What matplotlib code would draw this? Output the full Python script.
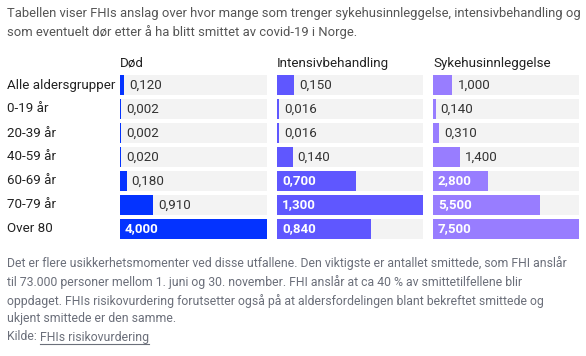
import matplotlib.pyplot as plt

# Data
age_groups = ['Alle aldersgrupper', '0-19 år', '20-39 år', '40-59 år',
              '60-69 år', '70-79 år', 'Over 80']
columns = ['Død', 'Intensivbehandling', 'Sykehusinnleggelse']
dod = [0.120, 0.002, 0.002, 0.020, 0.180, 0.910, 4.000]
intensiv = [0.150, 0.016, 0.016, 0.140, 0.700, 1.300, 0.840]
sykehus = [1.000, 0.140, 0.310, 1.400, 2.800, 5.500, 7.500]

intro = ('Tabellen viser FHIs anslag over hvor mange som trenger sykehusinnleggelse, intensivbehandling og\n'
         'som eventuelt dør etter å ha blitt smittet av covid-19 i Norge.')
note = ('Det er flere usikkerhetsmomenter ved disse utfallene. Den viktigste er antallet smittede, som FHI anslår\n'
        'til 73.000 personer mellom 1. juni og 30. november. FHI anslår at ca 40 % av smittetilfellene blir\n'
        'oppdaget. FHIs risikovurdering forutsetter også på at aldersfordelingen blant bekreftet smittede og\n'
        'ukjent smittede er den samme.')

colors = ['#0433ff', '#5f57ff', '#987dff']
bg = '#f3f3f3'
note_color = '#6b6f7a'

plt.rcParams['font.family'] = ['Roboto', 'DejaVu Sans']

W, H = 586, 356
fig = plt.figure(figsize=(W / 100, H / 100), dpi=100)
fig.patch.set_facecolor('white')


def px(x, y):
    # pixel coords (top-left origin) -> figure fraction
    return x / W, 1 - y / H


fig.text(*px(7, 23), intro, fontsize=9.35, color='#555555', va='center',
         linespacing=1.45)

# columns: left pixel, width
col_left = [120, 277, 433]
col_w = [147, 146, 146]
top, bottom = 75, 239

for values, name, left, width, color in zip([dod, intensiv, sykehus], columns,
                                             col_left, col_w, colors):
    ax = fig.add_axes([left / W, 1 - bottom / H, width / W, (bottom - top) / H])
    xmax = max(values)
    n = len(values)
    ys = list(range(n))
    ax.barh(ys, [xmax] * n, height=20 / 24, color=bg, linewidth=0)
    minw = xmax / width * 1.2
    draw = [max(v, minw) for v in values]
    ax.barh(ys, draw, height=20 / 24, color=color, linewidth=0)
    ax.set_xlim(0, xmax)
    ax.set_ylim(n - 1 + 10 / 24, -10 / 24)
    ax.axis('off')
    for y, v, d in zip(ys, values, draw):
        label = f'{v:.3f}'.replace('.', ',')
        if v / xmax >= 0.3:
            ax.annotate(label, (0, y), xytext=(5, 0), textcoords='offset pixels',
                        va='center', ha='left', fontsize=9.6, color='white',
                        fontweight='bold')
        else:
            ax.annotate(label, (d, y), xytext=(5, 0), textcoords='offset pixels',
                        va='center', ha='left', fontsize=9.6, color='#333333')
    fig.text(*px(left, 63), name, fontsize=9.6, color='#222222', va='center')

for i, g in enumerate(age_groups):
    fig.text(*px(7, 85 + 24 * i), g, fontsize=9.6, color='#222222', va='center')

fig.text(*px(7, 290.5), note, fontsize=8.85, color=note_color, va='center',
         linespacing=1.45)

# source line with underlined link text
src = fig.text(*px(7, 337), 'Kilde: ', fontsize=8.85, color=note_color, va='center')
fig.canvas.draw()
bb = src.get_window_extent()
link = fig.text(bb.x1 / W, 1 - 337 / H, 'FHIs risikovurdering', fontsize=8.85,
                color=note_color, va='center')
fig.canvas.draw()
lb = link.get_window_extent()
fig.add_artist(plt.Line2D([lb.x0 / W, lb.x1 / W], [(lb.y0 - 0.5) / H] * 2,
                          color=note_color, linewidth=0.8))

fig.savefig('out.png', dpi=100)
